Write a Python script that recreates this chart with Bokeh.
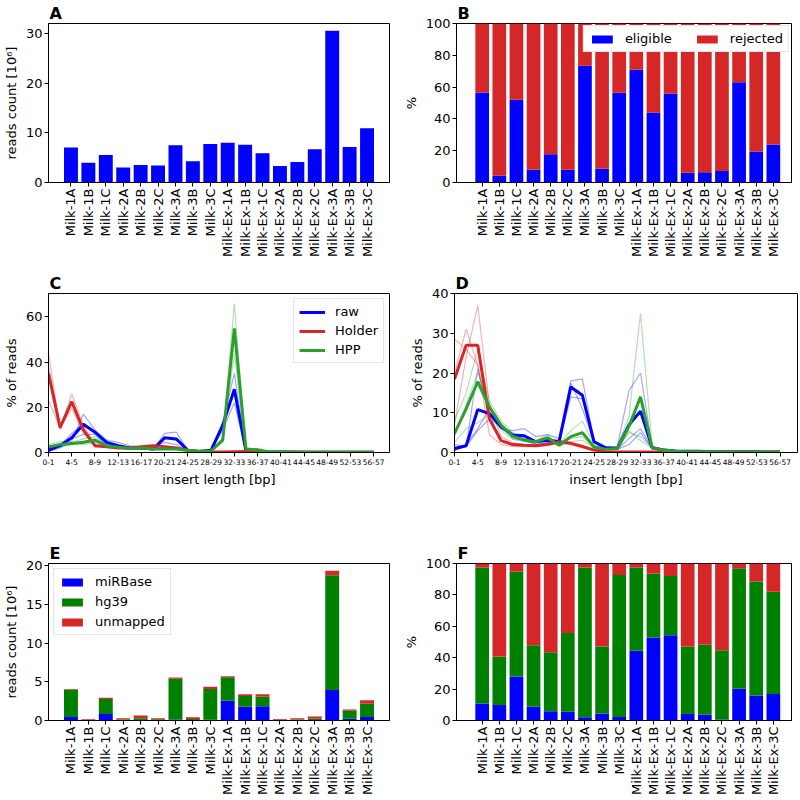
import math
from bokeh.plotting import figure
from bokeh.layouts import row, column
from bokeh.models import Range1d, FixedTicker, Legend, LegendItem, ColumnDataSource
from bokeh.embed import file_html
from bokeh.resources import INLINE

FONT = "DejaVu Sans"
BLUE = "#0000ff"
RED = "#d62728"
GREEN_L = "#2ca02c"
GREEN_D = "#008000"

# ---------------- data ----------------
samples = ["Milk-1A", "Milk-1B", "Milk-1C", "Milk-2A", "Milk-2B", "Milk-2C",
           "Milk-3A", "Milk-3B", "Milk-3C", "Milk-Ex-1A", "Milk-Ex-1B", "Milk-Ex-1C",
           "Milk-Ex-2A", "Milk-Ex-2B", "Milk-Ex-2C", "Milk-Ex-3A", "Milk-Ex-3B", "Milk-Ex-3C"]

# A: reads count [10^6]
reads_count = [7.05, 3.95, 5.55, 3.0, 3.5, 3.4, 7.5, 4.3, 7.75, 8.0, 7.6, 5.9,
               3.3, 4.15, 6.7, 30.55, 7.15, 10.9]

# B: % eligible / rejected
eligible_pct = [56.6, 4.2, 52.0, 8.0, 17.8, 8.0, 73.4, 8.6, 56.4, 70.9, 44.0, 56.0,
                6.1, 6.5, 7.3, 63.1, 19.5, 23.9]
rejected_pct = [43.4, 95.8, 48.0, 92.0, 82.2, 92.0, 26.6, 91.4, 43.6, 29.1, 56.0, 44.0,
                93.9, 93.5, 92.7, 36.9, 80.5, 76.1]

# C / D: insert length bins
bin_labels = ["0-1", "2-3", "4-5", "6-7", "8-9", "10-11", "12-13", "14-15", "16-17",
              "18-19", "20-21", "22-23", "24-25", "26-27", "28-29", "30-31", "32-33",
              "34-35", "36-37", "38-39", "40-41", "42-43", "44-45", "46-47", "48-49",
              "50-51", "52-53", "54-55", "56-57"]

# C: mean curves
c_raw = [1.0, 3.0, 6.5, 12.5, 9.0, 4.5, 3.0, 2.0, 2.0, 1.5, 6.5, 6.0, 1.0, 0.5, 1.0,
         12.0, 28.0, 0.7, 0.5, 0.2, 0.2, 0.2, 0.1, 0.1, 0.1, 0.1, 0.1, 0.1, 0.1]
c_holder = [35.0, 11.0, 22.5, 10.0, 3.0, 2.5, 2.0, 2.0, 2.5, 3.0, 2.5, 2.0, 1.0, 0.5, 0.3,
            0.2, 0.3, 0.4, 0.2, 0.1, 0.1, 0.1, 0.1, 0.1, 0.1, 0.1, 0.1, 0.1, 0.1]
c_hpp = [2.5, 3.5, 4.0, 4.5, 5.5, 3.0, 2.3, 1.8, 2.0, 1.5, 1.6, 1.5, 0.9, 0.5, 0.7,
         5.5, 55.0, 1.5, 1.2, 0.2, 0.2, 0.1, 0.1, 0.1, 0.1, 0.1, 0.1, 0.1, 0.1]
# C: individual samples
c_raw_1 = [0.5, 2.0, 5.0, 17.0, 10.0, 5.5, 4.5, 3.0, 2.5, 1.0, 8.5, 9.0, 1.0, 0.5, 1.0,
           13.0, 35.0, 0.8, 0.5, 0.3, 0.3, 0.3, 0.2, 0.2, 0.1, 0.1, 0.1, 0.1, 0.1]
c_raw_2 = [1.5, 3.0, 8.5, 12.5, 9.0, 5.0, 2.5, 1.5, 1.5, 2.0, 4.5, 3.5, 1.0, 0.5, 1.0,
           10.0, 22.0, 0.6, 0.4, 0.2, 0.2, 0.2, 0.1, 0.1, 0.1, 0.1, 0.1, 0.1, 0.1]
c_raw_3 = [1.0, 4.0, 6.0, 8.0, 8.0, 3.0, 2.0, 1.5, 2.0, 1.5, 6.5, 5.5, 1.0, 0.5, 1.0,
           13.0, 27.0, 0.7, 0.5, 0.2, 0.2, 0.2, 0.1, 0.1, 0.1, 0.1, 0.1, 0.1, 0.1]
c_holder_1 = [44.0, 10.0, 26.0, 12.0, 3.5, 2.5, 2.0, 2.0, 2.5, 3.0, 2.5, 2.0, 1.0, 0.5, 0.3,
              0.2, 0.3, 0.4, 0.2, 0.1, 0.1, 0.1, 0.1, 0.1, 0.1, 0.1, 0.1, 0.1, 0.1]
c_holder_2 = [38.0, 12.0, 22.0, 9.5, 2.5, 2.5, 2.0, 2.0, 2.5, 3.0, 2.5, 2.0, 1.0, 0.5, 0.3,
              0.2, 0.3, 0.4, 0.2, 0.1, 0.1, 0.1, 0.1, 0.1, 0.1, 0.1, 0.1, 0.1, 0.1]
c_holder_3 = [23.0, 11.0, 19.5, 8.5, 3.0, 2.5, 2.0, 2.0, 2.5, 3.0, 2.5, 2.0, 1.0, 0.5, 0.3,
              0.2, 0.3, 0.4, 0.2, 0.1, 0.1, 0.1, 0.1, 0.1, 0.1, 0.1, 0.1, 0.1, 0.1]
c_hpp_1 = [3.5, 5.0, 4.5, 6.0, 7.0, 3.5, 2.5, 2.0, 2.2, 1.7, 1.8, 1.6, 1.0, 0.6, 0.8,
           6.5, 66.0, 2.0, 1.5, 0.3, 0.2, 0.1, 0.1, 0.1, 0.1, 0.1, 0.1, 0.1, 0.1]
c_hpp_2 = [2.0, 3.0, 4.0, 4.0, 5.0, 3.0, 2.3, 1.8, 2.0, 1.5, 1.6, 1.5, 0.9, 0.5, 0.7,
           5.0, 55.0, 1.5, 1.2, 0.2, 0.2, 0.1, 0.1, 0.1, 0.1, 0.1, 0.1, 0.1, 0.1]
c_hpp_3 = [2.0, 2.5, 3.5, 3.5, 4.5, 2.5, 2.1, 1.6, 1.8, 1.3, 1.4, 1.4, 0.8, 0.4, 0.6,
           5.0, 44.0, 1.0, 0.9, 0.2, 0.2, 0.1, 0.1, 0.1, 0.1, 0.1, 0.1, 0.1, 0.1]

# D: mean curves
d_raw = [1.0, 1.7, 10.8, 9.8, 6.5, 4.4, 4.2, 2.7, 3.1, 2.8, 16.5, 14.4, 2.7, 1.2, 1.0,
         6.9, 10.4, 1.2, 0.6, 0.4, 0.3, 0.3, 0.2, 0.2, 0.2, 0.2, 0.2, 0.1, 0.1]
d_holder = [18.5, 27.0, 27.0, 8.5, 3.0, 2.0, 1.8, 1.7, 2.0, 2.7, 2.3, 1.5, 0.6, 0.2, 0.1,
            0.1, 0.1, 0.1, 0.1, 0.1, 0.1, 0.1, 0.1, 0.1, 0.1, 0.1, 0.1, 0.1, 0.1]
d_hpp = [4.8, 11.0, 17.8, 11.5, 6.9, 4.1, 3.1, 2.7, 3.7, 1.8, 4.0, 5.0, 1.4, 0.8, 1.0,
         6.5, 14.0, 1.2, 0.6, 0.3, 0.2, 0.2, 0.1, 0.1, 0.1, 0.1, 0.1, 0.1, 0.1]
# D: individual samples
d_raw_1 = [2.0, 1.5, 21.0, 10.0, 6.0, 5.5, 6.0, 4.0, 4.5, 3.5, 18.0, 18.5, 3.0, 1.5, 1.5,
           15.5, 20.0, 1.5, 0.8, 0.5, 0.3, 0.3, 0.2, 0.2, 0.2, 0.2, 0.2, 0.1, 0.1]
d_raw_2 = [0.5, 2.0, 6.0, 11.0, 7.0, 3.5, 3.0, 2.0, 2.5, 2.5, 17.5, 11.0, 2.5, 1.0, 0.8,
           3.5, 6.0, 1.0, 0.5, 0.3, 0.3, 0.3, 0.2, 0.2, 0.2, 0.2, 0.2, 0.1, 0.1]
d_raw_3 = [0.5, 1.5, 5.5, 8.5, 6.5, 4.0, 3.5, 2.0, 2.5, 2.5, 14.0, 13.5, 2.5, 1.0, 0.8,
           2.0, 5.0, 1.0, 0.5, 0.3, 0.3, 0.3, 0.2, 0.2, 0.2, 0.2, 0.2, 0.1, 0.1]
d_holder_1 = [28.5, 26.0, 22.0, 4.5, 2.0, 1.5, 1.5, 1.5, 2.0, 2.5, 2.0, 1.2, 0.5, 0.2, 0.1,
              0.1, 0.1, 0.1, 0.1, 0.1, 0.1, 0.1, 0.1, 0.1, 0.1, 0.1, 0.1, 0.1, 0.1]
d_holder_2 = [20.0, 31.0, 22.0, 9.0, 3.0, 2.0, 1.8, 1.8, 2.0, 2.8, 2.5, 1.5, 0.6, 0.2, 0.1,
              0.1, 0.1, 0.1, 0.1, 0.1, 0.1, 0.1, 0.1, 0.1, 0.1, 0.1, 0.1, 0.1, 0.1]
d_holder_3 = [7.0, 24.0, 37.0, 12.0, 4.0, 2.5, 2.0, 1.8, 2.0, 2.8, 2.4, 1.8, 0.7, 0.2, 0.1,
              0.1, 0.1, 0.1, 0.1, 0.1, 0.1, 0.1, 0.1, 0.1, 0.1, 0.1, 0.1, 0.1, 0.1]
d_hpp_1 = [8.0, 15.0, 26.0, 13.0, 8.0, 5.0, 3.5, 3.0, 4.5, 2.0, 5.5, 7.9, 2.0, 1.0, 1.5,
           9.0, 35.0, 1.5, 0.8, 0.4, 0.3, 0.2, 0.2, 0.1, 0.1, 0.1, 0.1, 0.1, 0.1]
d_hpp_2 = [4.0, 12.0, 20.0, 12.0, 7.0, 4.0, 3.0, 2.7, 3.5, 1.8, 3.5, 4.0, 1.2, 0.8, 0.8,
           5.0, 4.0, 1.2, 0.6, 0.3, 0.2, 0.2, 0.1, 0.1, 0.1, 0.1, 0.1, 0.1, 0.1]
d_hpp_3 = [2.5, 6.0, 7.5, 9.5, 5.7, 3.3, 2.8, 2.4, 3.1, 1.6, 2.7, 3.1, 1.0, 0.6, 0.7,
           5.5, 3.0, 1.0, 0.5, 0.3, 0.2, 0.2, 0.1, 0.1, 0.1, 0.1, 0.1, 0.1, 0.1]

# E: reads count [10^6] by mapping
e_mirbase = [0.44, 0.015, 0.83, 0.026, 0.038, 0.017, 0.12, 0.018, 0.10, 2.54, 1.78, 1.84,
             0.008, 0.011, 0.003, 3.93, 0.23, 0.44]
e_hg39 = [3.50, 0.046, 1.96, 0.118, 0.244, 0.151, 5.29, 0.18, 3.96, 3.04, 1.38, 1.27,
          0.077, 0.134, 0.23, 14.84, 1.03, 1.71]
e_unmapped = [0.10, 0.089, 0.15, 0.156, 0.368, 0.132, 0.14, 0.22, 0.32, 0.14, 0.22, 0.27,
              0.095, 0.155, 0.287, 0.58, 0.16, 0.47]

# F: % by mapping
f_mirbase = [10.9, 9.9, 28.1, 8.8, 5.9, 5.5, 2.1, 4.4, 2.3, 44.4, 52.8, 54.3,
             4.2, 3.6, 0.6, 20.3, 15.9, 16.8]
f_hg39 = [86.6, 30.8, 66.7, 39.2, 37.5, 50.3, 95.4, 42.8, 90.4, 53.1, 40.9, 37.7,
          43.0, 44.6, 44.1, 76.7, 72.6, 65.2]
f_unmapped = [2.5, 59.3, 5.2, 52.0, 56.6, 44.2, 2.5, 52.8, 7.3, 2.5, 6.3, 8.0,
              52.8, 51.8, 55.3, 3.0, 11.5, 18.0]

xs = list(range(len(samples)))
bx = list(range(len(bin_labels)))


# ---------------- helpers ----------------
def base_fig(w, h, bl, br, bt, bb, xr, yr, letter):
    p = figure(width=w, height=h, x_range=xr, y_range=yr, output_backend="svg",
               toolbar_location=None, min_border_left=bl, min_border_right=br,
               min_border_top=bt, min_border_bottom=bb, title=letter)
    p.title.align = "left"
    p.title.text_font = FONT
    p.title.text_font_style = "bold"
    p.title.text_font_size = "16px"
    p.title.text_color = "black"
    p.title.standoff = 2
    p.title.offset = 1
    p.xgrid.visible = False
    p.ygrid.visible = False
    p.outline_line_color = "black"
    p.outline_line_alpha = 1.0
    p.outline_line_width = 1
    for ax in (p.xaxis[0], p.yaxis[0]):
        ax.axis_line_color = "black"
        ax.major_tick_line_color = "black"
        ax.major_tick_out = 4
        ax.major_tick_in = 0
        ax.minor_tick_out = 0
        ax.minor_tick_in = 0
        ax.major_label_text_font = FONT
        ax.major_label_text_color = "black"
        ax.major_label_text_font_size = "13px"
        ax.major_label_standoff = 2
        ax.axis_label_text_font = FONT
        ax.axis_label_text_font_style = "normal"
        ax.axis_label_text_color = "black"
        ax.axis_label_text_font_size = "13px"
        ax.axis_label_standoff = 4
    return p


def sample_axis(p):
    p.xaxis.ticker = FixedTicker(ticks=xs)
    p.xaxis.major_label_overrides = {i: s for i, s in enumerate(samples)}
    p.xaxis.major_label_orientation = math.pi / 2
    p.xaxis.major_label_text_font_size = "13px"


def bin_axis(p):
    p.xaxis.ticker = FixedTicker(ticks=bx[::2])
    p.xaxis.major_label_overrides = {i: bin_labels[i] for i in bx[::2]}
    p.xaxis.major_label_text_font_size = "7.5px"
    p.xaxis.axis_label = "insert length [bp]"


def style_legend(lg, loc):
    lg.location = loc
    lg.label_text_font = FONT
    lg.label_text_font_size = "13px"
    lg.label_text_color = "black"
    lg.border_line_color = "#cccccc"
    lg.border_line_width = 1
    lg.background_fill_alpha = 1.0
    lg.glyph_width = 26
    lg.glyph_height = 10
    lg.label_height = 14
    lg.label_standoff = 10
    lg.padding = 5
    lg.spacing = 5
    lg.margin = 5


W = 400
# ---------------- A ----------------
pA = base_fig(W, 270, 47, 11, 23, 88, Range1d(-1.29, 18.29), Range1d(0, 32.0), "A")
pA.vbar(x=xs, top=reads_count, width=0.8, fill_color=BLUE, line_color=None)
sample_axis(pA)
pA.yaxis.ticker = FixedTicker(ticks=[0, 10, 20, 30])
pA.yaxis.axis_label = "reads count [10⁶]"

# ---------------- B ----------------
pB = base_fig(W, 270, 51, 9, 23, 88, Range1d(-1.5, 18.06), Range1d(0, 100), "B")
srcB = ColumnDataSource(dict(x=xs, eligible=eligible_pct, rejected=rejected_pct))
rb = pB.vbar_stack(["eligible", "rejected"], x="x", width=0.8, source=srcB,
                   fill_color=[BLUE, RED], line_color=None)
sample_axis(pB)
pB.yaxis.ticker = FixedTicker(ticks=[0, 20, 40, 60, 80, 100])
pB.yaxis.axis_label = "%"
lgB = Legend(items=[LegendItem(label="eligible", renderers=[rb[0]]),
                    LegendItem(label="rejected", renderers=[rb[1]])],
             orientation="horizontal")
style_legend(lgB, "top_right")
lgB.spacing = 22
lgB.margin = 2
pB.add_layout(lgB)

# ---------------- C ----------------
pC = base_fig(W, 270, 47, 11, 23, 88, Range1d(0, 29.36), Range1d(0, 70.4), "C")
for ys, col in [(c_raw_1, BLUE), (c_raw_2, BLUE), (c_raw_3, BLUE),
                (c_holder_1, RED), (c_holder_2, RED), (c_holder_3, RED),
                (c_hpp_1, GREEN_L), (c_hpp_2, GREEN_L), (c_hpp_3, GREEN_L)]:
    pC.line(bx, ys, line_color=col, line_width=1.2, line_alpha=0.35)
rC1 = pC.line(bx, c_raw, line_color=BLUE, line_width=3)
rC2 = pC.line(bx, c_holder, line_color=RED, line_width=3)
rC3 = pC.line(bx, c_hpp, line_color=GREEN_L, line_width=3)
bin_axis(pC)
pC.yaxis.ticker = FixedTicker(ticks=[0, 20, 40, 60])
pC.yaxis.axis_label = "% of reads"
lgC = Legend(items=[LegendItem(label="raw", renderers=[rC1]),
                    LegendItem(label="Holder", renderers=[rC2]),
                    LegendItem(label="HPP", renderers=[rC3])])
style_legend(lgC, "top_right")
lgC.spacing = 4
pC.add_layout(lgC)

# ---------------- D ----------------
pD = base_fig(W, 270, 54, 3, 23, 88, Range1d(0, 29.5), Range1d(0, 40), "D")
for ys, col in [(d_raw_1, BLUE), (d_raw_2, BLUE), (d_raw_3, BLUE),
                (d_holder_1, RED), (d_holder_2, RED), (d_holder_3, RED),
                (d_hpp_1, GREEN_L), (d_hpp_2, GREEN_L), (d_hpp_3, GREEN_L)]:
    pD.line(bx, ys, line_color=col, line_width=1.2, line_alpha=0.35)
pD.line(bx, d_raw, line_color=BLUE, line_width=3)
pD.line(bx, d_holder, line_color=RED, line_width=3)
pD.line(bx, d_hpp, line_color=GREEN_L, line_width=3)
bin_axis(pD)
pD.yaxis.ticker = FixedTicker(ticks=[0, 10, 20, 30, 40])
pD.yaxis.axis_label = "% of reads"

# ---------------- E ----------------
pE = base_fig(W, 258, 47, 11, 23, 76, Range1d(-1.29, 18.29), Range1d(0, 20.3), "E")
srcE = ColumnDataSource(dict(x=xs, mir=e_mirbase, hg=e_hg39, un=e_unmapped))
re_ = pE.vbar_stack(["mir", "hg", "un"], x="x", width=0.8, source=srcE,
                    fill_color=[BLUE, GREEN_D, RED], line_color=None)
sample_axis(pE)
pE.yaxis.ticker = FixedTicker(ticks=[0, 5, 10, 15, 20])
pE.yaxis.axis_label = "reads count [10⁶]"
lgE = Legend(items=[LegendItem(label="miRBase", renderers=[re_[0]]),
                    LegendItem(label="hg39", renderers=[re_[1]]),
                    LegendItem(label="unmapped", renderers=[re_[2]])])
style_legend(lgE, "top_left")
pE.add_layout(lgE)

# ---------------- F ----------------
pF = base_fig(W, 258, 51, 9, 23, 76, Range1d(-1.5, 18.06), Range1d(0, 100), "F")
srcF = ColumnDataSource(dict(x=xs, mir=f_mirbase, hg=f_hg39, un=f_unmapped))
pF.vbar_stack(["mir", "hg", "un"], x="x", width=0.8, source=srcF,
              fill_color=[BLUE, GREEN_D, RED], line_color=None)
sample_axis(pF)
pF.yaxis.ticker = FixedTicker(ticks=[0, 20, 40, 60, 80, 100])
pF.yaxis.axis_label = "%"

layout = column(row(pA, pB), row(pC, pD), row(pE, pF))
open("out.html", "w").write(file_html(layout, INLINE))
